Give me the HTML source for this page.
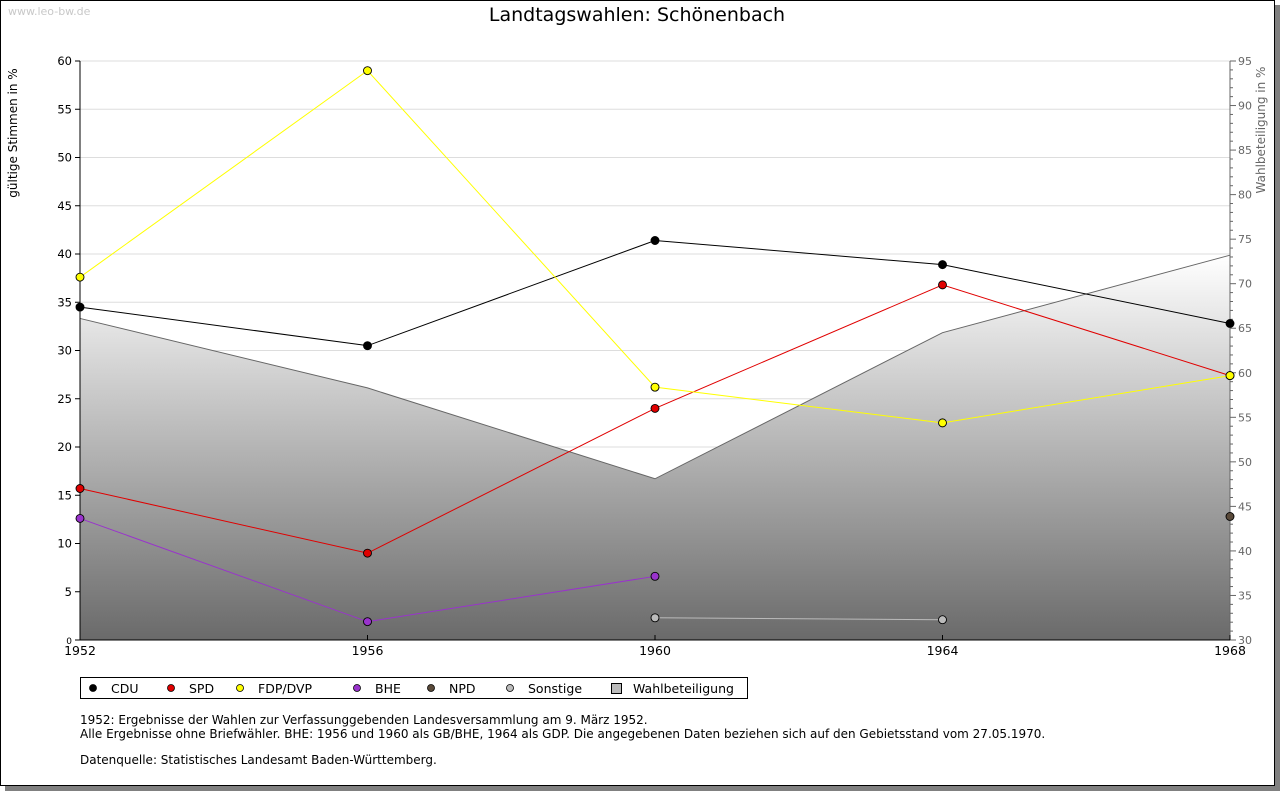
<!DOCTYPE html>
<html><head><meta charset="utf-8"><style>
body{margin:0;background:#fff;width:1280px;height:791px;overflow:hidden;font-family:"DejaVu Sans",sans-serif}
svg text{font-family:"DejaVu Sans","Liberation Sans",sans-serif}
</style></head><body>
<svg id="chart" width="1280" height="791" xmlns="http://www.w3.org/2000/svg">
<defs><linearGradient id="wg" x1="0" y1="0" x2="0" y2="1"><stop offset="0" stop-color="#ffffff"/><stop offset="1" stop-color="#6a6a6a"/></linearGradient></defs>
<rect x="5" y="5" width="1275" height="786" fill="#808080"/>
<rect x="0.5" y="0.5" width="1274" height="785" fill="#fff" stroke="#000"/>
<text x="8" y="15" font-size="11" fill="#c8c8c8">www.leo-bw.de</text>
<text x="637" y="21" font-size="19" text-anchor="middle" fill="#000">Landtagswahlen: Schönenbach</text>
<g id="grid"></g><g id="area"></g><g id="axes"></g><g id="series"></g>
<text transform="translate(17,133) rotate(-90)" font-size="12" text-anchor="middle">gültige Stimmen in %</text>
<text transform="translate(1265,130) rotate(-90)" font-size="12" fill="#666" text-anchor="middle">Wahlbeteiligung in %</text>
<rect x="80.5" y="677.5" width="667" height="21" fill="#fff" stroke="#000"/>
<g id="legend"></g>
<text font-size="12" fill="#000"><tspan x="80" y="724">1952: Ergebnisse der Wahlen zur Verfassunggebenden Landesversammlung am 9. März 1952.</tspan><tspan x="80" y="738">Alle Ergebnisse ohne Briefwähler. BHE: 1956 und 1960 als GB/BHE, 1964 als GDP. Die angegebenen Daten beziehen sich auf den Gebietsstand vom 27.05.1970.</tspan><tspan x="80" y="764">Datenquelle: Statistisches Landesamt Baden-Württemberg.</tspan></text>
</svg>
<script>
const years=[1952,1956,1960,1964,1968];
const cdu=[34.5,30.5,41.4,38.9,32.8];
const spd=[15.7,9.0,24.0,36.8,27.4];
const fdp=[37.6,59.0,26.2,22.5,27.4];
const bhe=[12.6,1.9,6.6,null,null];
const npd=[null,null,null,null,12.8];
const sonst=[null,null,2.3,2.1,null];
const turnout=[66.1,58.3,48.1,64.5,73.2];
const leftTicks=[0,5,10,15,20,25,30,35,40,45,50,55,60];
const rightTicks=[30,35,40,45,50,55,60,65,70,75,80,85,90,95];
const NS='http://www.w3.org/2000/svg';
const X0=80,X1=1230,YB=640,YT=61;
const xs=y=>X0+(y-1952)/(1968-1952)*(X1-X0);
const ys=v=>YB-v/60*(YB-YT);
const yr=v=>YB-(v-30)/65*(YB-YT);
function mk(t,a,p){const e=document.createElementNS(NS,t);for(const k in a)e.setAttribute(k,a[k]);document.getElementById(p).appendChild(e);return e;}
leftTicks.forEach(t=>{
 if(t>0){const g=mk('line',{x1:X0,x2:X1,y1:ys(t),y2:ys(t),stroke:'#ddd'},'grid');
 
 }
 const l=mk('line',{x1:X0-5,x2:X0,y1:ys(t),y2:ys(t),stroke:'#000'},'axes');
 const tx=mk('text',{x:X0-8,y:ys(t)+4,'font-size':t==0?9:11.5,'text-anchor':'end'},'axes');tx.textContent=t;
 
 
});
for(let v=30;v<=95;v++){mk('line',{x1:X1,x2:X1+(v%5==0?6:3),y1:yr(v),y2:yr(v),stroke:'#666'},'axes');}
rightTicks.forEach(t=>{const tx=mk('text',{x:X1+8,y:yr(t)+4,'font-size':11,fill:'#666'},'axes');tx.textContent=t;
 
 });
let d='M'+xs(years[0])+','+YB;years.forEach((y,i)=>d+=' L'+xs(y)+','+yr(turnout[i]));d+=' L'+xs(years[years.length-1])+','+YB+'Z';
const ar=mk('path',{d:d,fill:'url(#wg)'},'area');


let d2='';years.forEach((y,i)=>d2+=(i?' L':'M')+xs(y)+','+yr(turnout[i]));
mk('path',{d:d2,fill:'none',stroke:'#666'},'area');
mk('line',{x1:X0,x2:X0,y1:YT,y2:YB,stroke:'#000'},'axes');
mk('line',{x1:X1,x2:X1,y1:YT,y2:YB,stroke:'#666'},'axes');
mk('line',{x1:X0,x2:X1,y1:YB,y2:YB,stroke:'#000'},'axes');
years.forEach(y=>{mk('line',{x1:xs(y),x2:xs(y),y1:YB-5,y2:YB,stroke:'#000'},'axes');
 const tx=mk('text',{x:xs(y),y:YB+15,'font-size':12.5,'text-anchor':'middle'},'axes');tx.textContent=y;
 
 });
const series=[['cdu',cdu,'#000','#000'],['spd',spd,'#e00000','#e00000'],['fdp',fdp,'#ffff00','#ffff00'],['bhe',bhe,'#9933cc','#9933cc'],['npd',npd,'#5a4a3a','#5a4a3a'],['sonstige',sonst,'#bbbbbb','#bbbbbb']];
series.forEach(([n,vals,c,f])=>{
 let p='',pen=false;vals.forEach((v,i)=>{if(v==null){pen=false;return;}p+=(pen?' L':' M')+xs(years[i])+','+ys(v);pen=true;});
 if(p){const l=mk('path',{d:p,fill:'none',stroke:c},'series');
 
 }
 vals.forEach((v,i)=>{if(v==null)return;const cx=xs(years[i]),cy=ys(v);
  const m=mk('circle',{cx:cx,cy:cy,r:4,fill:f,stroke:'#000','stroke-width':0.9},'series');
  
  });
});
const leg=[['CDU','#000',93],['SPD','#e00000',171],['FDP/DVP','#ffff00',240],['BHE','#9933cc',357],['NPD','#5a4a3a',431],['Sonstige','#bbbbbb',510]];
leg.forEach(([t,c,x])=>{const cy=688;
 const m=mk('circle',{cx:x,cy:cy,r:3.5,fill:c,stroke:'#000','stroke-width':0.8},'legend');
 
 
 const tx=mk('text',{x:x+18,y:cy+5,'font-size':12.5},'legend');tx.textContent=t;
 
 });
const sq=mk('rect',{x:611.5,y:683.5,width:10,height:10,fill:'#bbb',stroke:'#000'},'legend');


const wt=mk('text',{x:633,y:693,'font-size':12.5},'legend');wt.textContent='Wahlbeteiligung';


</script>
</body></html>
